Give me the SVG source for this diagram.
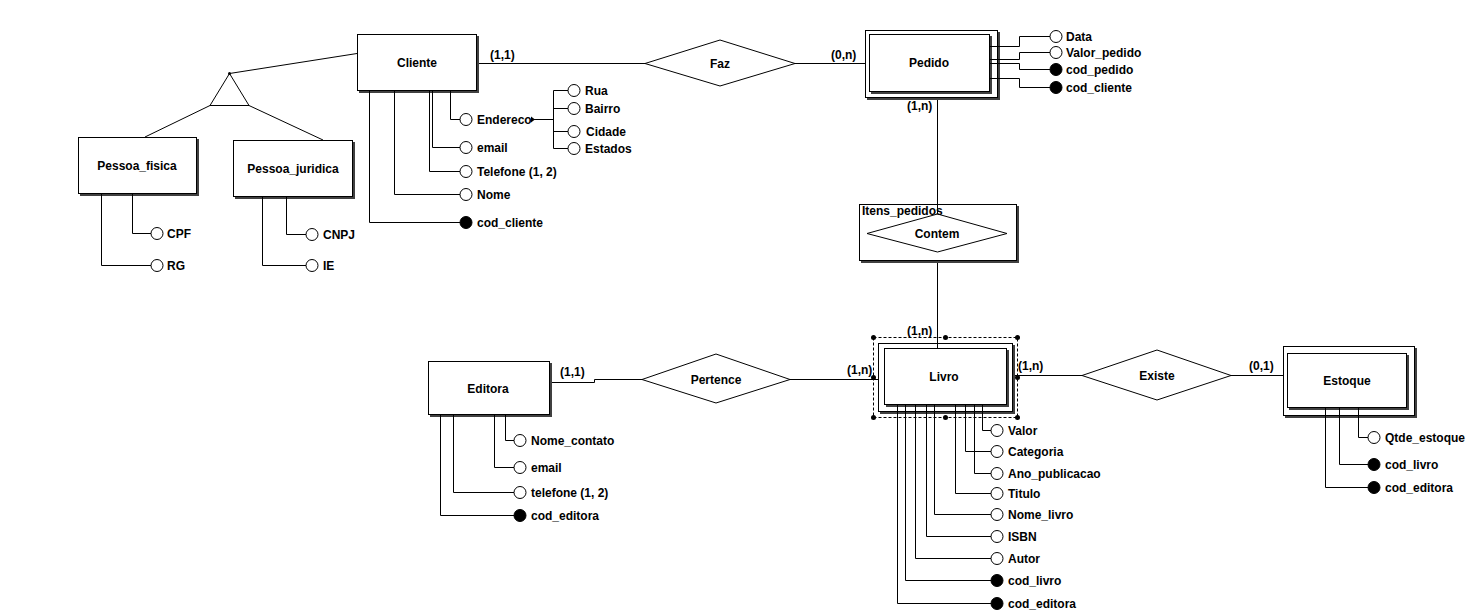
<svg xmlns="http://www.w3.org/2000/svg" width="1474" height="615" viewBox="0 0 1474 615">
<style>
text{font-family:"Liberation Sans",Arial,sans-serif;font-weight:bold;font-size:12px;fill:#000}
.c{text-anchor:middle}
.box{fill:#fff;stroke:#000;stroke-width:1}
.sh{fill:#404040}
.ln{fill:none;stroke:#000;stroke-width:1}
.dia{fill:#fff;stroke:#000;stroke-width:1}
.at{fill:#fff;stroke:#000;stroke-width:1}
.k{fill:#000;stroke:#000;stroke-width:1}
.dash{fill:none;stroke:#000;stroke-width:1;stroke-dasharray:3,2}
</style>
<rect width="1474" height="615" fill="#fff"/>
<g id="connectors">
<path class="ln" d="M229.5,73.5 L357,53.5 M210,105.5 L145,137 M249,105.5 L323,140"/>
<path class="ln" d="M477,63.5 H645 M795,63.5 H869"/>
<path class="ln" d="M937.5,92 V214 M937.5,252 V348"/>
<path class="ln" d="M550,382.5 H594.5 V379.5 H642 M790,379.5 H878"/>
<path class="ln" d="M1013,375.5 H1082 M1231,375.5 H1287"/>
</g>
<g id="cliente">
<rect class="sh" x="359" y="36" width="120" height="57"/>
<rect class="box" x="357.5" y="34.5" width="119" height="56"/>
<text class="c" x="417" y="67">Cliente</text>
<path class="ln" d="M450.5,91 V119.5 H460 M432.5,91 V147.5 H460 M429.5,91 V171.5 H460 M394.5,91 V194.5 H460 M369.5,91 V222.5 H460"/>
<circle class="at" cx="466" cy="119.5" r="6"/><text x="477" y="123.5">Endereco</text>
<circle class="at" cx="466" cy="147.5" r="6"/><text x="477" y="151.5">email</text>
<circle class="at" cx="466" cy="171.5" r="6"/><text x="477" y="175.5">Telefone (1, 2)</text>
<circle class="at" cx="466" cy="194.5" r="6"/><text x="477" y="198.5">Nome</text>
<circle class="k" cx="466" cy="222.5" r="6"/><text x="477" y="226.5">cod_cliente</text>
<polygon points="531,116.5 535,119.5 531,122.5" fill="#000"/>
<path class="ln" d="M534,119.5 H553.5 M553.5,90.5 V148.5 M553.5,90.5 H568 M553.5,108.5 H568 M553.5,131.5 H568 M553.5,148.5 H568"/>
<circle class="at" cx="574" cy="90.5" r="6"/><text x="585" y="94.5">Rua</text>
<circle class="at" cx="574" cy="108.5" r="6"/><text x="585" y="112.5">Bairro</text>
<circle class="at" cx="574" cy="131.5" r="6"/><text x="586" y="135.5">Cidade</text>
<circle class="at" cx="574" cy="148.5" r="6"/><text x="585" y="152.5">Estados</text>
<polygon class="box" points="229.5,73.5 210,105.5 249,105.5"/>
<circle cx="229.5" cy="73.5" r="1.5" fill="#000"/>
</g>
<g id="pessoa_fisica">
<rect class="sh" x="80" y="139" width="119" height="57"/>
<rect class="box" x="78.5" y="137.5" width="118" height="56"/>
<text class="c" x="137" y="170">Pessoa_fisica</text>
<path class="ln" d="M132.5,194 V233.5 H151 M101.5,194 V265.5 H151"/>
<circle class="at" cx="157" cy="233.5" r="6"/><text x="167" y="237.5">CPF</text>
<circle class="at" cx="157" cy="265.5" r="6"/><text x="167" y="269.5">RG</text>
</g>
<g id="pessoa_juridica">
<rect class="sh" x="235" y="142" width="120" height="57"/>
<rect class="box" x="233.5" y="140.5" width="119" height="56"/>
<text class="c" x="293" y="173">Pessoa_juridica</text>
<path class="ln" d="M286.5,197 V234.5 H306 M262.5,197 V265.5 H306"/>
<circle class="at" cx="312" cy="234.5" r="6"/><text x="323" y="238.5">CNPJ</text>
<circle class="at" cx="312" cy="265.5" r="6"/><text x="323" y="269.5">IE</text>
</g>
<g id="faz">
<polygon class="dia" points="645,63.5 720,40 795,63.5 720,86"/>
<text class="c" x="720" y="67.5">Faz</text>
<text x="490" y="59">(1,1)</text>
<text x="831" y="59">(0,n)</text>
</g>
<g id="pedido">
<rect class="sh" x="867" y="32" width="133" height="68"/>
<rect class="box" x="865.5" y="30.5" width="132" height="67"/>
<rect class="sh" x="871" y="36" width="121" height="58"/>
<rect class="box" x="869.5" y="34.5" width="120" height="57"/>
<text class="c" x="929" y="67">Pedido</text>
<path class="ln" d="M990,46.5 H1019.5 V36.5 H1050 M990,59.5 H1019.5 V52.5 H1050 M990,63.5 H1019.5 V69.5 H1050 M990,78.5 H1019.5 V87.5 H1050"/>
<circle class="at" cx="1056" cy="36.5" r="6"/><text x="1066" y="40.5">Data</text>
<circle class="at" cx="1056" cy="52.5" r="6"/><text x="1066" y="56.5">Valor_pedido</text>
<circle class="k" cx="1056" cy="69.5" r="6"/><text x="1066" y="73.5">cod_pedido</text>
<circle class="k" cx="1056" cy="87.5" r="6"/><text x="1066" y="91.5">cod_cliente</text>
<text x="907" y="110">(1,n)</text>
</g>
<g id="itens_pedidos">
<rect class="sh" x="861" y="206" width="158" height="57"/>
<rect class="box" x="859.5" y="204.5" width="157" height="56"/>
<polygon class="dia" points="867,233.5 937.5,214 1007,233.5 937.5,252"/>
<path class="ln" d="M937.5,204 V214"/>
<text x="862" y="215">Itens_pedidos</text>
<text class="c" x="937" y="237.5">Contem</text>
</g>
<g id="pertence">
<polygon class="dia" points="642,379.5 716,354 790,379.5 716,403"/>
<text class="c" x="716" y="384">Pertence</text>
<text x="560" y="376">(1,1)</text>
<text x="847" y="374">(1,n)</text>
</g>
<g id="existe">
<polygon class="dia" points="1082,375.5 1157,350 1231,375.5 1157,400"/>
<text class="c" x="1157" y="380">Existe</text>
<text x="1018" y="370">(1,n)</text>
<text x="1249" y="370">(0,1)</text>
</g>
<g id="livro">
<rect class="sh" x="880" y="345" width="135" height="69"/>
<rect class="box" x="878.5" y="343.5" width="134" height="68"/>
<rect class="sh" x="886" y="350" width="123" height="57"/>
<rect class="box" x="884.5" y="348.5" width="122" height="56"/>
<text class="c" x="944" y="381">Livro</text>
<rect class="dash" x="873.5" y="337.5" width="144" height="80"/>
<path class="ln" d="M937.5,337 V348"/>
<g fill="#000">
<circle cx="873.5" cy="337.5" r="2.5"/><circle cx="945.5" cy="337.5" r="2.5"/><circle cx="1017.5" cy="337.5" r="2.5"/>
<circle cx="873.5" cy="377.5" r="2.5"/><circle cx="1017.5" cy="377.5" r="2.5"/>
<circle cx="873.5" cy="417.5" r="2.5"/><circle cx="945.5" cy="417.5" r="2.5"/><circle cx="1017.5" cy="417.5" r="2.5"/>
</g>
<text x="907" y="335">(1,n)</text>
<path class="ln" d="M982.5,405 V430.5 H991 M965.5,405 V451.5 H991 M974.5,405 V473.5 H991 M955.5,405 V493.5 H991 M934.5,405 V514.5 H991 M926.5,405 V536.5 H991 M915.5,405 V558.5 H991 M905.5,405 V580.5 H991 M897.5,405 V603.5 H991"/>
<circle class="at" cx="997" cy="430.5" r="6"/><text x="1008" y="434.5">Valor</text>
<circle class="at" cx="997" cy="451.5" r="6"/><text x="1008" y="455.5">Categoria</text>
<circle class="at" cx="997" cy="473.5" r="6"/><text x="1008" y="477.5">Ano_publicacao</text>
<circle class="at" cx="997" cy="493.5" r="6"/><text x="1008" y="497.5">Titulo</text>
<circle class="at" cx="997" cy="514.5" r="6"/><text x="1008" y="518.5">Nome_livro</text>
<circle class="at" cx="997" cy="536.5" r="6"/><text x="1008" y="540.5">ISBN</text>
<circle class="at" cx="997" cy="558.5" r="6"/><text x="1008" y="562.5">Autor</text>
<circle class="k" cx="997" cy="580.5" r="6"/><text x="1008" y="584.5">cod_livro</text>
<circle class="k" cx="997" cy="603.5" r="6"/><text x="1008" y="607.5">cod_editora</text>
</g>
<g id="editora">
<rect class="sh" x="430" y="363" width="122" height="54"/>
<rect class="box" x="428.5" y="361.5" width="121" height="53"/>
<text class="c" x="488" y="393">Editora</text>
<path class="ln" d="M505.5,415 V440.5 H514 M494.5,415 V467.5 H514 M453.5,415 V492.5 H514 M440.5,415 V515.5 H514"/>
<circle class="at" cx="520" cy="440.5" r="6"/><text x="531" y="444.5">Nome_contato</text>
<circle class="at" cx="520" cy="467.5" r="6"/><text x="531" y="471.5">email</text>
<circle class="at" cx="520" cy="492.5" r="6"/><text x="531" y="496.5">telefone (1, 2)</text>
<circle class="k" cx="520" cy="515.5" r="6"/><text x="531" y="519.5">cod_editora</text>
</g>
<g id="estoque">
<rect class="sh" x="1285" y="348" width="132" height="70"/>
<rect class="box" x="1283.5" y="346.5" width="131" height="69"/>
<rect class="sh" x="1289" y="355" width="120" height="55"/>
<rect class="box" x="1287.5" y="353.5" width="119" height="54"/>
<text class="c" x="1347" y="385">Estoque</text>
<path class="ln" d="M1358.5,408 V437.5 H1368 M1339.5,408 V464.5 H1368 M1325.5,408 V487.5 H1368"/>
<circle class="at" cx="1374" cy="437.5" r="6"/><text x="1385" y="441.5">Qtde_estoque</text>
<circle class="k" cx="1374" cy="464.5" r="6"/><text x="1385" y="468.5">cod_livro</text>
<circle class="k" cx="1374" cy="487.5" r="6"/><text x="1385" y="491.5">cod_editora</text>
</g>
</svg>
